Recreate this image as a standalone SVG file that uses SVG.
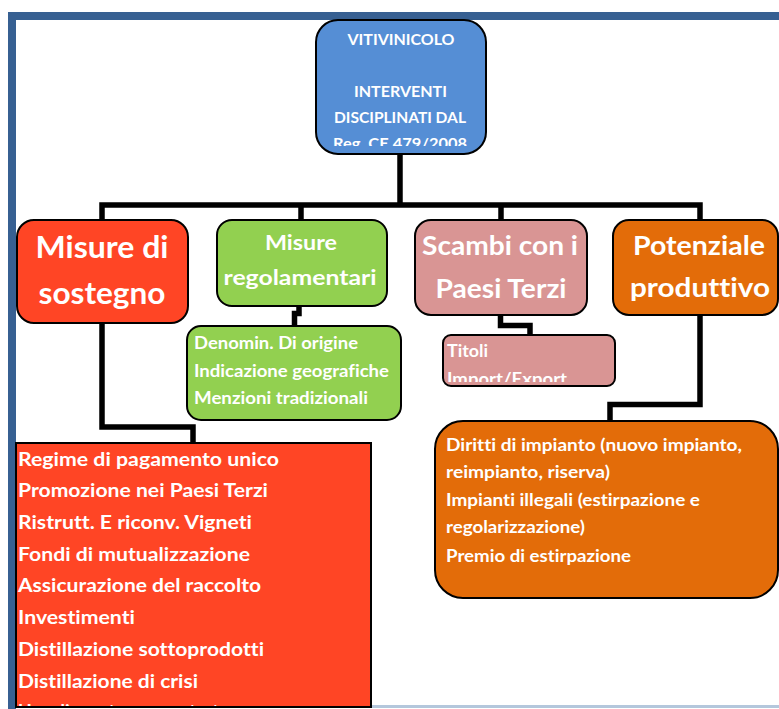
<svg xmlns="http://www.w3.org/2000/svg" width="779" height="709" viewBox="0 0 779 709">
  <style>
    .t { font-family: Lato, "Liberation Sans", sans-serif; font-weight: 700; fill: #ffffff; font-variant-ligatures: none; }
    .c { text-anchor: middle; }
    .box { stroke: #000000; stroke-width: 2; }
    .wire { fill: none; stroke: #000000; stroke-width: 5.5; stroke-linejoin: miter; }
    .blue { fill: #558ed5; }
    .red { fill: #ff4525; }
    .green { fill: #92d050; }
    .pink { fill: #d99594; }
    .orange { fill: #e36c09; }
  </style>
  <defs>
    <clipPath id="clip-top"><rect x="318" y="22" width="166" height="124"/></clipPath>
    <clipPath id="clip-titoli"><rect x="444" y="336" width="170" height="46"/></clipPath>
    <clipPath id="clip-list"><rect x="17" y="444" width="353" height="262"/></clipPath>
  </defs>

  <rect x="0" y="0" width="779" height="709" fill="#ffffff"/>

  <!-- page frame -->
  <g id="frame">
    <rect x="8" y="12" width="771" height="8" fill="#376092"/>
    <rect x="8" y="12" width="8" height="697" fill="#376092"/>
    <rect x="16" y="705" width="763" height="3" fill="#b4c7dc"/>
  </g>

  <!-- connectors -->
  <g id="connectors">
    <path class="wire" d="M400 153 V205"/>
    <path class="wire" d="M102 221 V205 H700 V221"/>
    <path class="wire" d="M301 205 V221"/>
    <path class="wire" d="M501 205 V221"/>
    <path class="wire" d="M299 306 V313.5 H294.5 V327"/>
    <path class="wire" d="M500.5 315 V325.5 H530 V336"/>
    <path class="wire" d="M700 315 V404.5 H610 V422"/>
    <path class="wire" d="M102 323 V427 H193 V444"/>
  </g>

  <!-- root node -->
  <g id="node-root">
    <rect class="box blue" x="316" y="20" width="170" height="134" rx="22"/>
    <g clip-path="url(#clip-top)">
      <text class="t c" x="401" y="45" font-size="15" textLength="107" lengthAdjust="spacingAndGlyphs">VITIVINICOLO</text>
      <text class="t c" x="400.5" y="97" font-size="15" textLength="93" lengthAdjust="spacingAndGlyphs">INTERVENTI</text>
      <text class="t c" x="400" y="123" font-size="15" textLength="132" lengthAdjust="spacingAndGlyphs">DISCIPLINATI DAL</text>
      <text class="t c" x="400" y="149" font-size="15" textLength="134" lengthAdjust="spacingAndGlyphs">Reg. CE 479/2008</text>
    </g>
  </g>

  <!-- Misure di sostegno -->
  <g id="node-sostegno">
    <rect class="box red" x="17" y="220" width="171" height="103" rx="17"/>
    <text class="t c" x="102" y="258" font-size="30" textLength="133" lengthAdjust="spacingAndGlyphs">Misure di</text>
    <text class="t c" x="102" y="304" font-size="30" textLength="127" lengthAdjust="spacingAndGlyphs">sostegno</text>
  </g>

  <!-- Misure regolamentari -->
  <g id="node-regolamentari">
    <rect class="box green" x="217" y="220" width="170" height="86" rx="15"/>
    <text class="t c" x="301" y="250" font-size="21" textLength="72" lengthAdjust="spacingAndGlyphs">Misure</text>
    <text class="t c" x="300" y="285" font-size="21" textLength="153" lengthAdjust="spacingAndGlyphs">regolamentari</text>
  </g>

  <!-- Scambi con i Paesi Terzi -->
  <g id="node-scambi">
    <rect class="box pink" x="415" y="220" width="172" height="95" rx="16"/>
    <text class="t c" x="500" y="255" font-size="27" textLength="156" lengthAdjust="spacingAndGlyphs">Scambi con i</text>
    <text class="t c" x="501" y="298" font-size="27" textLength="131" lengthAdjust="spacingAndGlyphs">Paesi Terzi</text>
  </g>

  <!-- Potenziale produttivo -->
  <g id="node-potenziale">
    <rect class="box orange" x="613" y="220" width="165" height="95" rx="16"/>
    <text class="t c" x="699" y="255" font-size="27" textLength="132" lengthAdjust="spacingAndGlyphs">Potenziale</text>
    <text class="t c" x="700" y="297" font-size="27" textLength="140" lengthAdjust="spacingAndGlyphs">produttivo</text>
  </g>

  <!-- denominazioni -->
  <g id="node-denominazioni">
    <rect class="box green" x="187" y="326" width="214" height="94" rx="14"/>
    <text class="t" x="194" y="349" font-size="16.5" textLength="164" lengthAdjust="spacingAndGlyphs">Denomin. Di origine</text>
    <text class="t" x="194" y="377" font-size="16.5" textLength="195" lengthAdjust="spacingAndGlyphs">Indicazione geografiche</text>
    <text class="t" x="194" y="404" font-size="16.5" textLength="174" lengthAdjust="spacingAndGlyphs">Menzioni tradizionali</text>
  </g>

  <!-- titoli import/export -->
  <g id="node-titoli">
    <rect class="box pink" x="443" y="335" width="172" height="51" rx="8"/>
    <g clip-path="url(#clip-titoli)">
      <text class="t" x="447" y="357" font-size="16.5" textLength="41" lengthAdjust="spacingAndGlyphs">Titoli</text>
      <text class="t" x="447" y="385" font-size="16.5" textLength="120" lengthAdjust="spacingAndGlyphs">Import/Export</text>
    </g>
  </g>

  <!-- elenco misure di sostegno -->
  <g id="node-elenco-sostegno">
    <rect class="box red" x="16" y="443" width="355" height="264"/>
    <g clip-path="url(#clip-list)">
      <text class="t" x="18" y="466" font-size="18.5" textLength="261" lengthAdjust="spacingAndGlyphs">Regime di pagamento unico</text>
      <text class="t" x="18" y="497" font-size="18.5" textLength="250" lengthAdjust="spacingAndGlyphs">Promozione nei Paesi Terzi</text>
      <text class="t" x="18" y="529" font-size="18.5" textLength="234" lengthAdjust="spacingAndGlyphs">Ristrutt. E riconv. Vigneti</text>
      <text class="t" x="18" y="561" font-size="18.5" textLength="232" lengthAdjust="spacingAndGlyphs">Fondi di mutualizzazione</text>
      <text class="t" x="18" y="592" font-size="18.5" textLength="243" lengthAdjust="spacingAndGlyphs">Assicurazione del raccolto</text>
      <text class="t" x="18" y="624" font-size="18.5" textLength="117" lengthAdjust="spacingAndGlyphs">Investimenti</text>
      <text class="t" x="18" y="656" font-size="18.5" textLength="246" lengthAdjust="spacingAndGlyphs">Distillazione sottoprodotti</text>
      <text class="t" x="18" y="688" font-size="18.5" textLength="180" lengthAdjust="spacingAndGlyphs">Distillazione di crisi</text>
      <text class="t" x="18" y="718" font-size="18.5">Uso di mosto concentrato</text>
    </g>
  </g>

  <!-- elenco potenziale produttivo -->
  <g id="node-elenco-potenziale">
    <rect class="box orange" x="435" y="421" width="343" height="177" rx="28"/>
    <text class="t" x="446" y="451" font-size="16.5" textLength="296" lengthAdjust="spacingAndGlyphs">Diritti di impianto (nuovo impianto,</text>
    <text class="t" x="446" y="478" font-size="16.5" textLength="164" lengthAdjust="spacingAndGlyphs">reimpianto, riserva)</text>
    <text class="t" x="446" y="506" font-size="16.5" textLength="254" lengthAdjust="spacingAndGlyphs">Impianti illegali (estirpazione e</text>
    <text class="t" x="446" y="533" font-size="16.5" textLength="139" lengthAdjust="spacingAndGlyphs">regolarizzazione)</text>
    <text class="t" x="446" y="562" font-size="16.5" textLength="185" lengthAdjust="spacingAndGlyphs">Premio di estirpazione</text>
  </g>
</svg>
